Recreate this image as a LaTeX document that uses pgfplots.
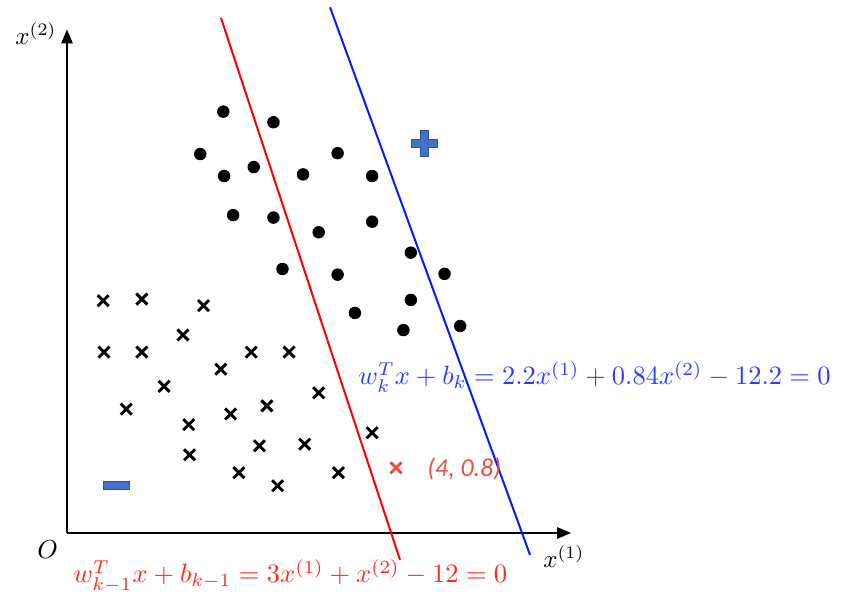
\documentclass[border=0pt]{standalone}
\usepackage{pgfplots}
\pgfplotsset{compat=1.18}
\usepackage{fontspec}
\usetikzlibrary{arrows.meta}
\newfontfamily\calib{Carlito}
\definecolor{lred}{RGB}{255,0,0}
\definecolor{lblue}{RGB}{0,30,255}
\definecolor{tblue}{RGB}{40,60,255}
\definecolor{tred}{RGB}{255,40,20}
\definecolor{xred}{RGB}{232,80,64}
\definecolor{sfill}{RGB}{68,114,196}
\definecolor{sdraw}{RGB}{47,82,143}
\begin{document}
\begin{tikzpicture}
\begin{axis}[
  x=41.125pt, y=40.75pt,
  xmin=-0.8146, xmax=9.4711, ymin=-0.7853, ymax=6.5399,
  hide axis, clip=false, scale only axis,
]
% axes
\draw[line width=1.25pt, -{Triangle[length=7pt,width=5.5pt]}] (axis cs:0,0) -- (axis cs:6.13,0);
\draw[line width=1.25pt, -{Triangle[length=7pt,width=5.5pt]}] (axis cs:0,0) -- (axis cs:0,6.18);
% separating lines
\addplot[lred, line width=1pt, no marks] coordinates {(1.872,6.32) (4.049,-0.33)};
\addplot[lblue, line width=1pt, no marks] coordinates {(3.198,6.45) (5.63,-0.27)};
% positive points
\addplot[only marks, mark=*, mark size=2.9pt, black] coordinates {
(1.90,5.17) (2.51,5.04) (1.62,4.65) (1.91,4.38) (2.27,4.49) (2.87,4.40)
(3.29,4.66) (3.71,4.38) (2.02,3.90) (2.51,3.87) (3.06,3.69) (3.71,3.82)
(4.18,3.44) (2.62,3.24) (3.29,3.17) (4.59,3.18) (4.18,2.86) (3.50,2.70)
(4.09,2.49) (4.78,2.54)};
% negative points
\addplot[only marks, mark=x, mark size=3.9pt, black, line width=1.45pt] coordinates {
(0.44,2.85) (0.91,2.87) (1.66,2.79) (0.45,2.22) (0.91,2.22) (1.41,2.43)
(2.24,2.22) (2.70,2.22) (1.87,2.01) (1.18,1.80) (0.72,1.52) (1.48,1.33)
(1.99,1.46) (2.43,1.56) (3.06,1.72) (1.49,0.96) (2.34,1.07) (2.89,1.09)
(3.71,1.23) (2.09,0.74) (2.56,0.58) (3.30,0.74)};
\addplot[only marks, mark=x, mark size=3.9pt, xred, line width=1.45pt] coordinates {(4.0,0.8)};
% plus symbol
\addplot[fill=sfill, draw=sdraw, line width=0.5pt] coordinates {
(4.189,4.730) (4.298,4.730) (4.298,4.620) (4.396,4.620) (4.396,4.730) (4.505,4.730)
(4.505,4.828) (4.396,4.828) (4.396,4.938) (4.298,4.938) (4.298,4.828) (4.189,4.828)} -- cycle;
% minus symbol
\addplot[fill=sfill, draw=sdraw, line width=0.5pt] coordinates {
(0.438,0.528) (0.754,0.528) (0.754,0.638) (0.438,0.638)} -- cycle;
% labels
\node[anchor=base west, tblue, inner sep=0pt] at (axis cs:3.538,1.816)
  {\scalebox{1.325}{$w_k^Tx+b_k=2.2x^{(1)}+0.84x^{(2)}-12.2=0$}};
\node[anchor=base west, tred, inner sep=0pt] at (axis cs:0.073,-0.613)
  {\scalebox{1.325}{$w_{k-1}^Tx+b_{k-1}=3x^{(1)}+x^{(2)}-12=0$}};
\node[anchor=base west, inner sep=0pt] at (axis cs:5.787,-0.429) {\scalebox{1.25}{$x^{(1)}$}};
\node[anchor=base west, inner sep=0pt] at (axis cs:-0.632,5.988) {\scalebox{1.25}{$x^{(2)}$}};
\node[anchor=base west, inner sep=0pt] at (axis cs:-0.365,-0.307) {\scalebox{1.3}{$O$}};
\node[anchor=base west, xred, inner sep=0pt] at (axis cs:4.377,0.699) {\scalebox{1.29}{\calib\itshape (4, 0.8)}};
\end{axis}
\pgfresetboundingbox
\path (current axis.south west) rectangle (current axis.north east);
\end{tikzpicture}
\end{document}
